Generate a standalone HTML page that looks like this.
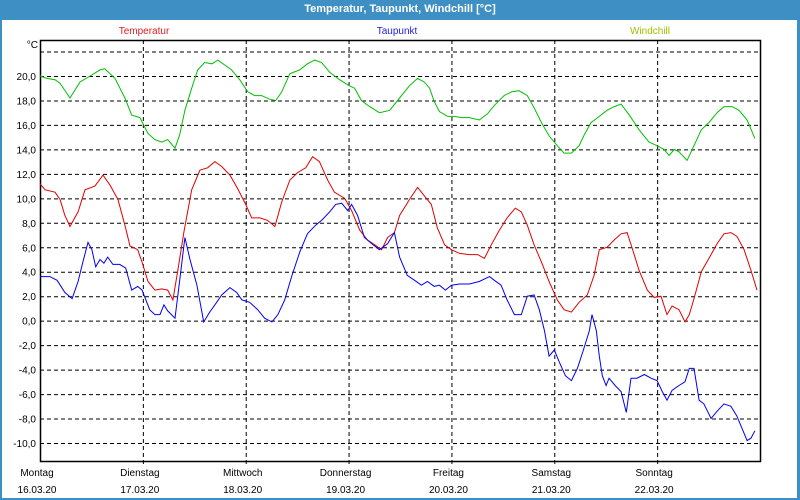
<!DOCTYPE html>
<html><head><meta charset="utf-8"><style>
html,body{margin:0;padding:0;background:#fff;}
#wrap{position:relative;width:800px;height:500px;background:#3d8fc4;overflow:hidden;font-family:"Liberation Sans",sans-serif;}
#inner{position:absolute;left:2px;top:20px;width:795px;height:478px;background:#fff;}
#title{position:absolute;left:0;top:0;width:800px;height:20px;line-height:19px;text-align:center;color:#fff;font-weight:bold;font-size:11px;}
svg{position:absolute;left:0;top:0;}
</style></head><body>
<div id="wrap">
<div id="inner"></div>
<div id="title">Temperatur, Taupunkt, Windchill [°C]</div>
<svg id="chart" width="800" height="500" font-family="Liberation Sans, sans-serif"></svg>
</div>
<script>
const yTicks=[-10,-8,-6,-4,-2,0,2,4,6,8,10,12,14,16,18,20,22];
const dayNames=["Montag","Dienstag","Mittwoch","Donnerstag","Freitag","Samstag","Sonntag"];
const dayDates=["16.03.20","17.03.20","18.03.20","19.03.20","20.03.20","21.03.20","22.03.20"];
const windT=[0,1.6,3.5,4.7,7,9.3,11.7,14,15.1,17.5,19.8,21.4,23.3,25.2,26.8,28.4,29.8,31.5,32.6,33.8,35.4,36.8,38.4,40.1,41.5,43.1,44.7,46.6,48.5,50.1,51.7,53.6,55,56.4,58.3,60.6,62.4,64.1,65.7,67.6,69.9,72.2,73.4,75,76.9,79.2,81.6,83.9,86.2,88.1,89.7,90.9,92,93.2,95.1,96.7,98.3,100.2,102.5,104.4,106,108.3,110,111.8,113.7,115.3,117,118.8,120.7,122.3,124,125.8,127,128.6,130.5,132.3,134,135.6,137.5,139.8,142.1,144,145.6,146.8,148,149.1,151,152.6,154.3,156.1,158,159.6,161.5,163.1,165,166.8];
const windV=[20,19.8,19.7,19.4,18.2,19.5,20,20.5,20.6,19.8,18.2,16.8,16.6,15.3,14.8,14.6,14.8,14.1,15.2,17.2,19,20.5,21.1,21,21.3,20.9,20.5,19.7,18.7,18.4,18.4,18.1,18,18.7,20.2,20.5,21,21.3,21.1,20.3,19.7,19.2,19,18,17.5,17,17.2,18.2,19.2,19.8,19.5,19,17.9,17.1,16.7,16.7,16.6,16.6,16.4,16.9,17.6,18.4,18.7,18.8,18.4,17.4,16.2,15.1,14.3,13.7,13.7,14.3,15.2,16.2,16.7,17.2,17.5,17.7,16.8,15.6,14.6,14.3,14,13.5,14,13.8,13.1,14.3,15.6,16.2,17,17.5,17.5,17.2,16.4,14.9];
const tempT=[0,1.2,3.5,4.7,5.8,7,8.9,10.5,12.8,14.7,16.3,18.2,19.8,21,22.8,23.8,25.2,26.8,28.4,29.8,31,32.2,33.6,35.4,37.3,39.1,40.8,42.4,44.3,46.1,48,49.4,51.3,53.1,54.8,56.4,58.3,60.1,62,63.6,65.2,67.1,68.7,71.1,72.7,74.6,76.4,78.1,79.7,81.1,82.7,83.9,86.2,88.1,89.7,91.3,92.7,94.4,96,97.9,100.2,102.1,103.7,105.3,107.2,109,110.9,112.3,113.7,115.3,117,118.8,120.7,122.3,124,125.8,127.7,129.3,130.5,132.3,134,135.6,137,138.2,139.8,141.7,143.3,144.9,146.3,147.5,149.1,150.5,151.5,152.6,154.3,156.1,158,159.6,161.2,162.6,164.3,165.9,167.3];
const tempV=[11.2,10.7,10.5,9.9,8.6,7.7,8.9,10.7,11,11.9,11.1,9.9,7.8,6.1,5.8,4.8,3.2,2.5,2.6,2.5,1.7,4.2,7.3,10.7,12.3,12.5,13,12.6,11.9,10.8,9.5,8.4,8.4,8.2,7.7,9.7,11.5,12.1,12.5,13.4,13,11.5,10.5,10,9,7.4,6.6,6.2,5.8,6.8,7.2,8.6,9.9,10.9,10.2,9.5,7.6,6.2,5.8,5.5,5.4,5.4,5.1,6.2,7.4,8.4,9.2,8.9,7.8,6.2,4.8,3.2,1.7,0.9,0.7,1.5,2.1,3.7,5.8,6,6.6,7.1,7.2,5.9,4.1,2.5,1.9,2,0.5,1.2,0.9,-0.1,0.5,1.8,4,5.1,6.3,7.1,7.2,6.9,5.8,4.1,2.5];
const dewT=[0,2.3,4,5.8,7.5,8.9,10,11.2,12.1,13,14,14.9,15.8,17,18.6,20,21.4,22.8,23.8,24.7,25.6,26.8,28,28.9,29.8,31.5,32.6,33.8,35,36.6,38.2,39.6,40.8,42.4,44.3,45.9,47.1,48.9,50.8,52.4,54.1,55.5,57.1,58.7,60.6,62.4,64.3,65.7,67.6,69,70.4,71.8,72.7,74.1,75.7,77.4,79.2,81.1,82.7,83.9,85.7,87.4,89,90.4,92,93.2,94.6,96,97.9,100.2,102.5,104.9,106,107.6,109,110.7,112.3,113.7,115.3,116.5,117.7,118.8,120,121.2,122.6,124,125.4,126.8,128.2,128.8,129.8,130.5,131.2,132.1,132.8,134.2,135.6,136.8,137.9,139.3,141,142.6,144,145.2,146.3,147.5,149.1,150.5,151.5,152.6,153.8,154.9,156.6,158,159.6,161.2,162.6,163.8,165,165.9,166.8];
const dewV=[3.6,3.6,3.3,2.3,1.8,3.2,4.8,6.4,5.8,4.4,5,4.7,5.2,4.6,4.6,4.3,2.5,2.8,2.5,1.7,0.9,0.5,0.5,1.3,0.8,0.2,3.3,6.8,5,2.9,-0.1,0.7,1.3,2.1,2.7,2.3,1.7,1.5,0.9,0.2,-0.1,0.5,1.7,3.6,5.6,7.1,7.8,8.2,8.9,9.5,9.6,9,9.5,8.6,6.8,6.3,5.8,6.3,7.2,5.2,3.7,3.3,2.9,3.2,2.8,2.9,2.5,2.9,3,3,3.2,3.6,3.3,2.9,1.7,0.5,0.5,2,2.1,0.9,-0.8,-2.9,-2.4,-3.4,-4.5,-4.9,-3.9,-2.4,-0.8,0.5,-0.8,-2.9,-4.5,-5.3,-4.7,-5.3,-5.8,-7.5,-4.7,-4.7,-4.4,-4.7,-4.9,-5.8,-6.5,-5.7,-5.3,-5,-3.9,-3.9,-6.5,-6.8,-8,-7.4,-6.8,-7,-7.8,-8.8,-9.8,-9.6,-9];

const L=40,R=760,T=40,B=461;
const xS=h=>L+h*(R-L)/168;
const yS=v=>76+(20-v)*(443-76)/30;
const svg=document.getElementById('chart');
const NS='http://www.w3.org/2000/svg';
function mk(tag,attrs,parent){const e=document.createElementNS(NS,tag);for(const k in attrs)e.setAttribute(k,attrs[k]);(parent||svg).appendChild(e);return e;}

yTicks.forEach(v=>{
  const g=mk('line',{x1:L,x2:R,y1:yS(v)+0.5,y2:yS(v)+0.5,stroke:'#000','stroke-dasharray':'4,3','stroke-width':1});
  
  
  if(v<=20){
    const t=mk('text',{x:36,y:yS(v)+4,'text-anchor':'end','font-size':10,fill:'#000'});
    t.textContent=v.toFixed(1).replace('.',',');
    
    
  }
});
const unit=mk('text',{x:38,y:48,'text-anchor':'end','font-size':10,fill:'#000'});
unit.textContent='°C';



dayNames.forEach((d,i)=>{
  const x=xS(i*24);
  if(i>0){
    const g=mk('line',{x1:x+0.5,x2:x+0.5,y1:T,y2:B+4,stroke:'#000','stroke-dasharray':'4,3'});
    
    
  }
  const t1=mk('text',{x:x-3,y:476,'text-anchor':'middle','font-size':10,fill:'#000'});
  t1.textContent=d;
  
  
  const t2=mk('text',{x:x-3,y:493,'text-anchor':'middle','font-size':10,fill:'#000'});
  t2.textContent=dayDates[i];
  
  
});

const box=mk('rect',{x:L+0.5,y:T+0.5,width:R-L,height:B-T,fill:'none',stroke:'#000','stroke-width':1.5});



function series(ts,vs,color,name){
  const p=mk('polyline',{points:ts.map((t,i)=>xS(t).toFixed(1)+','+yS(vs[i]).toFixed(1)).join(' '),fill:'none',stroke:color,'stroke-width':1});
  
  
}
series(windT,windV,'#00c000','windchill-line');
series(tempT,tempV,'#e00000','temperatur-line');
series(dewT,dewV,'#0000f0','taupunkt-line');

[['Temperatur','#e02020',144,'legend-temperatur'],['Taupunkt','#2020e0',397,'legend-taupunkt'],['Windchill','#a0c000',650,'legend-windchill']].forEach(l=>{
  const t=mk('text',{x:l[2],y:34,'text-anchor':'middle','font-size':10,fill:l[1]});
  t.textContent=l[0];
  
  
});
</script>
</body></html>
